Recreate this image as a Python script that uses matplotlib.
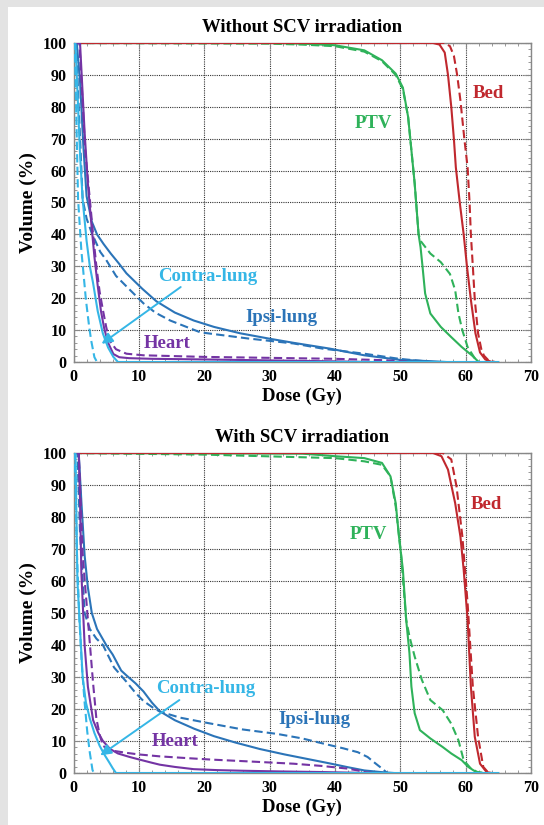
import matplotlib
matplotlib.use('Agg')
from matplotlib import pyplot as plt
from matplotlib.patches import Rectangle
from matplotlib.ticker import MultipleLocator

# ---- Without SCV irradiation (top panel) ----
wo_bed_d = [0, 55, 56, 56.8, 57.3, 57.8, 58.2, 58.5, 59.1, 59.7, 60.2, 60.8, 61.5, 62.2, 63, 64]
wo_bed_v = [100, 100, 99.5, 97, 90, 80, 70, 61, 50, 40, 30, 19.5, 9, 3, 0.8, 0]
wo_bed_dash_d = [0, 56.8, 57.6, 58.2, 58.7, 59.2, 59.8, 60.3, 60.6, 60.8, 61.1, 61.4, 61.9, 62.4, 62.8, 63.5, 64.5]
wo_bed_dash_v = [100, 100, 99, 96, 90, 82, 70, 61, 50, 40, 30, 19.5, 9, 4, 2, 0.5, 0]

wo_ptv_d = [0, 30, 35, 40, 44.5, 47.2, 49.3, 50.4, 51.2, 51.7, 52.2, 52.8, 53.1, 53.4, 53.8, 54.6, 56.2, 57.8, 59.4, 61, 62]
wo_ptv_v = [100, 100, 99.8, 99.3, 97.7, 94.6, 90.4, 86, 76.8, 66.4, 56, 40, 36, 30, 21.5, 15.2, 11, 7.8, 4.7, 2, 0]
wo_ptv_dash_d = [0, 30, 35, 40, 44.5, 47.2, 49.3, 50.4, 51.2, 51.7, 52.2, 52.8, 53.2, 54.6, 56.2, 57.6, 58.4, 58.9, 59.5, 60.3, 61.6, 62]
wo_ptv_dash_v = [100, 99.8, 99.5, 99, 97.3, 94.3, 90, 85.5, 76.8, 66.4, 56, 40, 37.7, 34, 31.3, 27.6, 22.5, 15.2, 9.9, 4.7, 0.5, 0]

wo_ipsi_d = [0, 0.5, 1.0, 1.5, 2.0, 2.8, 3.6, 4.6, 5.7, 6.9, 8.1, 10.5, 12.7, 15.5, 18.4, 21.5, 25.5, 30, 33.7, 39.2, 44.5, 49.8, 55.2, 57]
wo_ipsi_v = [100, 100, 88, 68, 52, 44, 40, 37, 34, 31, 27.8, 23, 19, 15.5, 13, 11, 9, 7.3, 6, 4.2, 2.1, 0.7, 0.2, 0]
wo_ipsi_dash_d = [0, 0.4, 0.8, 1.4, 2.0, 2.8, 4.1, 5.0, 6.5, 8.1, 10.7, 12.5, 14.8, 19.4, 26.6, 33.7, 38.1, 44.5, 49.8, 55]
wo_ipsi_dash_v = [100, 100, 80, 51, 45, 40.4, 34.5, 32, 27, 23.7, 18.4, 15.5, 13, 9.3, 7.4, 5.8, 4.2, 2.6, 1, 0]

wo_heart_d = [0, 1.0, 1.3, 1.7, 2.2, 2.7, 3.2, 3.7, 4.2, 4.7, 5.3, 6.1, 7.0, 8.5, 12, 20, 30, 40, 45]
wo_heart_v = [100, 100, 88, 72, 56, 44, 33, 24, 16, 10.5, 6, 2.5, 1.5, 1.2, 1.0, 0.8, 0.5, 0.2, 0]
wo_heart_dash_d = [0, 0.9, 1.3, 1.8, 2.5, 3.0, 3.5, 4.0, 4.5, 5.0, 5.5, 6.5, 8.1, 10.7, 20, 30, 40, 47, 52]
wo_heart_dash_v = [100, 100, 85, 66, 51, 40, 30, 22, 16.3, 11, 6.8, 4, 2.6, 2.1, 1.6, 1.3, 1.0, 0.6, 0]

wo_contra_d = [0, 0.3, 0.6, 1.0, 1.4, 2.0, 2.5, 3.0, 3.7, 4.5, 5.3, 6.1, 6.8, 65]
wo_contra_v = [100, 100, 85, 65, 51, 38, 30, 24.7, 16, 8.9, 4.5, 1.6, 0, 0]
wo_contra_dash_d = [0, 0.2, 0.4, 0.7, 1.2, 1.9, 2.4, 2.7, 3.2, 3.6]
wo_contra_dash_v = [100, 100, 80, 51, 35, 19.5, 11, 6.8, 1.5, 0]

# ---- With SCV irradiation (bottom panel) ----
w_bed_d = [0, 55, 56.3, 57.3, 58.4, 59.2, 59.7, 60.3, 60.8, 61.4, 62.2, 63.2, 64]
w_bed_v = [100, 100, 99, 94.8, 84.3, 73.9, 63.5, 47.9, 27, 11.3, 2.9, 0.3, 0]
w_bed_dash_d = [0, 56.5, 57.8, 58.6, 59.5, 60.3, 61.1, 61.9, 62.7, 63.3, 64]
w_bed_dash_v = [100, 100, 98, 89.6, 73.9, 53, 27, 11.3, 1.9, 0.5, 0]

w_ptv_d = [0, 35, 40, 44.5, 47.2, 48.5, 49.3, 49.8, 50.4, 50.9, 51.4, 51.7, 52.2, 53, 54.6, 56.5, 57.8, 59.4, 60.4, 61.6, 62.5]
w_ptv_v = [100, 99.8, 99, 98.4, 96.9, 92.7, 84.3, 73.9, 63.5, 47.9, 37.5, 27, 18.7, 13.4, 10.8, 8.1, 6.1, 4, 1.9, 0.3, 0]
w_ptv_dash_d = [0, 20, 40, 44.5, 47.2, 48.5, 49.3, 50.1, 50.9, 51.4, 52.2, 53.3, 54.6, 56.5, 57.8, 58.9, 59.7, 60.8, 61.8, 63]
w_ptv_dash_v = [100, 99.5, 98.4, 97.4, 96.3, 92.7, 83.3, 68.7, 47.9, 42.7, 36.4, 29.1, 22.8, 19.6, 15.4, 10.2, 4, 1.4, 0.3, 0]

w_ipsi_d = [0, 0.8, 1.2, 1.7, 2.2, 2.8, 3.6, 5.0, 6.0, 7.3, 8.1, 9.5, 10.7, 12, 13.2, 15.5, 18.5, 21.5, 24.8, 28.5, 32.3, 35.5, 39.2, 42, 44.5, 47, 49]
w_ipsi_v = [100, 100, 85, 68, 58, 50, 45, 40, 37, 32, 30.5, 28, 25.5, 22, 19.3, 16.5, 13.8, 11.5, 9.5, 7.5, 5.8, 4.5, 3, 1.8, 0.8, 0.3, 0]
w_ipsi_dash_d = [0, 0.6, 1.0, 1.7, 2.5, 3.5, 4.5, 6.2, 8.1, 9.5, 10.7, 12.1, 13.2, 16.3, 20.6, 25.9, 31.2, 35, 37.6, 41.3, 43.5, 45, 46.2, 47.2, 48]
w_ipsi_dash_v = [100, 100, 75, 50, 45, 42, 40, 33, 28.5, 25, 22.5, 20.5, 19.2, 17.3, 15.6, 13.6, 12.2, 10.8, 9.5, 7.7, 6.5, 5, 3, 1.4, 0]

w_heart_d = [0, 0.8, 1.0, 1.2, 1.7, 2.2, 3.0, 3.8, 4.5, 5.6, 6.8, 8.6, 9.9, 12, 13.2, 15.5, 18.4, 22, 26, 31.2, 38, 45]
w_heart_v = [100, 100, 85, 62.6, 40, 27, 16.5, 12.5, 10, 7.5, 6.1, 5, 4.3, 3.2, 2.6, 1.9, 1.2, 0.9, 0.7, 0.5, 0.3, 0]
w_heart_dash_d = [0, 0.8, 1.1, 1.4, 1.8, 2.2, 2.6, 3.0, 3.5, 4.0, 4.5, 5.2, 6.2, 8.1, 10, 13.2, 17, 21, 26, 33.7, 38, 41.8, 43.5, 44.5, 46]
w_heart_dash_v = [100, 100, 85, 68.7, 58, 48, 38, 28, 17, 12, 8.5, 7.6, 6.9, 6.3, 5.8, 5.2, 4.7, 4.2, 3.7, 2.9, 2.2, 1.4, 0.8, 0.3, 0]

w_contra_d = [0, 0.3, 0.6, 1.0, 1.4, 1.9, 2.5, 3.2, 4.0, 4.8, 5.5, 6.0, 6.5, 65]
w_contra_v = [100, 100, 60, 45, 30, 22, 17, 12.5, 8.5, 5.5, 3.2, 1.5, 0, 0]
w_contra_dash_d = [0, 0.2, 0.5, 0.9, 1.3, 1.7, 2.1, 2.5, 2.9, 3.1]
w_contra_dash_v = [100, 100, 70, 48, 33, 22, 13, 6.3, 1, 0]

panel_titles = ['Without SCV irradiation', 'With SCV irradiation']
x_ticks = list(range(0, 71, 10))
y_ticks = list(range(0, 101, 10))

# label positions (dose, volume) for each panel
wo_label_pos = {'Bed': (63.5, 84.3), 'PTV': (45.9, 74.7), 'Contra-lung': (20.6, 26.9),
                'Ipsi-lung': (31.8, 13.9), 'Heart': (14.4, 5.7)}
w_label_pos = {'Bed': (63.1, 83.8), 'PTV': (45.1, 74.4), 'Contra-lung': (20.2, 26.3),
               'Ipsi-lung': (36.8, 16.6), 'Heart': (15.5, 9.7)}
wo_arrow = ((16.4, 23.5), (4.3, 5.7))
w_arrow = ((16.2, 22.8), (4.1, 5.5))

colors = {'Bed': '#c0282e', 'PTV': '#2fb25a', 'Contra-lung': '#35b6e6',
          'Ipsi-lung': '#2b74b8', 'Heart': '#7434a4'}

plt.rcParams['font.family'] = ['Liberation Serif', 'DejaVu Serif']
plt.rcParams['font.weight'] = 'bold'

W, H = 544, 825
fig = plt.figure(figsize=(W / 100, H / 100), dpi=100)
fig.patch.set_facecolor('#e3e3e3')
fig.patches.append(Rectangle((8 / W, 0), 1 - 8 / W, 1 - 7 / H, transform=fig.transFigure,
                             facecolor='white', edgecolor='none', zorder=-10))

ax_left = 73.5 / W
ax_width = (531 - 73.5) / W
ax_top = fig.add_axes([ax_left, 1 - 362 / H, ax_width, 319 / H])
ax_bot = fig.add_axes([ax_left, 1 - 773 / H, ax_width, 320 / H])


def draw_panel(ax, title, curves, label_pos, arrow):
    for name, d, v, style in curves:
        ax.plot(d, v, color=colors[name], lw=1.5,
                linestyle=(0, (4, 2)) if style == 'dash' else '-', zorder=3)
    for name, (x, y) in label_pos.items():
        ax.text(x, y, name, color=colors[name], fontsize=13.5, fontweight='bold',
                ha='center', va='center', zorder=5)
    ax.annotate('', xy=arrow[1], xytext=arrow[0],
                arrowprops=dict(arrowstyle='-|>', color=colors['Contra-lung'], lw=1.4,
                                mutation_scale=16, shrinkA=0, shrinkB=0), zorder=5)
    ax.set_xlim(0, 70)
    ax.set_ylim(0, 100)
    ax.set_xticks(x_ticks)
    ax.set_yticks(y_ticks)
    ax.xaxis.set_minor_locator(MultipleLocator(2))
    ax.yaxis.set_minor_locator(MultipleLocator(2))
    ax.tick_params(which='both', direction='in', top=True, right=True, color='#888888',
                   labelsize=11.5, pad=5)
    ax.tick_params(which='major', length=4)
    ax.tick_params(which='minor', length=2.5)
    ax.grid(True, which='major', color='#333333', linestyle=(0, (1, 1)), lw=0.8)
    for s in ax.spines.values():
        s.set_color('#888888')
        s.set_linewidth(1.0)
    ax.set_title(title, fontsize=13.5, fontweight='bold', pad=8)
    ax.set_xlabel('Dose (Gy)', fontsize=13.5, fontweight='bold', labelpad=2)
    ax.set_ylabel('Volume (%)', fontsize=14, fontweight='bold', labelpad=4)


wo_curves = [
    ('PTV', wo_ptv_d, wo_ptv_v, 'solid'), ('PTV', wo_ptv_dash_d, wo_ptv_dash_v, 'dash'),
    ('Bed', wo_bed_d, wo_bed_v, 'solid'), ('Bed', wo_bed_dash_d, wo_bed_dash_v, 'dash'),
    ('Ipsi-lung', wo_ipsi_d, wo_ipsi_v, 'solid'), ('Ipsi-lung', wo_ipsi_dash_d, wo_ipsi_dash_v, 'dash'),
    ('Heart', wo_heart_d, wo_heart_v, 'solid'), ('Heart', wo_heart_dash_d, wo_heart_dash_v, 'dash'),
    ('Contra-lung', wo_contra_d, wo_contra_v, 'solid'), ('Contra-lung', wo_contra_dash_d, wo_contra_dash_v, 'dash'),
]
w_curves = [
    ('PTV', w_ptv_d, w_ptv_v, 'solid'), ('PTV', w_ptv_dash_d, w_ptv_dash_v, 'dash'),
    ('Bed', w_bed_d, w_bed_v, 'solid'), ('Bed', w_bed_dash_d, w_bed_dash_v, 'dash'),
    ('Ipsi-lung', w_ipsi_d, w_ipsi_v, 'solid'), ('Ipsi-lung', w_ipsi_dash_d, w_ipsi_dash_v, 'dash'),
    ('Heart', w_heart_d, w_heart_v, 'solid'), ('Heart', w_heart_dash_d, w_heart_dash_v, 'dash'),
    ('Contra-lung', w_contra_d, w_contra_v, 'solid'), ('Contra-lung', w_contra_dash_d, w_contra_dash_v, 'dash'),
]

draw_panel(ax_top, panel_titles[0], wo_curves, wo_label_pos, wo_arrow)
draw_panel(ax_bot, panel_titles[1], w_curves, w_label_pos, w_arrow)

fig.savefig('out.png', dpi=100, facecolor=fig.get_facecolor())
